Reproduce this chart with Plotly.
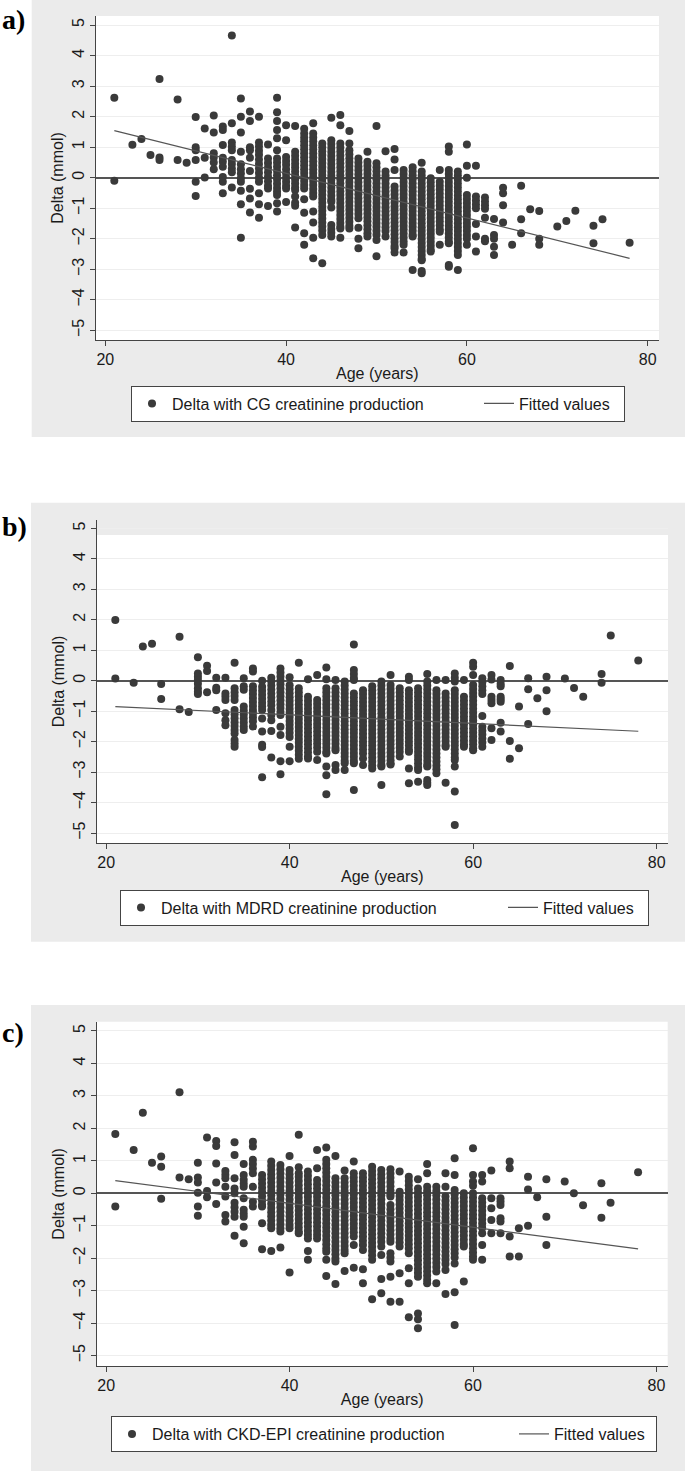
import plotly.graph_objects as go

# ---------------- data ----------------
ticks_x = [20, 40, 60, 80]
ticks_y = [-5, -4, -3, -2, -1, 0, 1, 2, 3, 4, 5]

# Panel a: Delta with CG creatinine production, by age (years)
delta_cg = {
    21: [2.62, -0.10], 23: [1.08], 24: [1.27], 25: [0.74], 26: [3.23, 0.66, 0.58],
    28: [2.56, 0.58], 29: [0.49], 30: [1.99, 1.00, 0.90, 0.58, -0.13, -0.60],
    31: [1.61, 0.65, 0.01], 32: [2.04, 1.48, 0.80, 0.66, 0.50, 0.28],
    33: [1.68, 1.56, 1.07, 0.65, 0.52, 0.36, 0.02, -0.13, -0.51],
    34: [4.66, 1.78, 1.15, 1.02, 0.90, 0.58, 0.45, 0.30, 0.18, -0.32],
    35: [2.59, 2.00, 1.48, 0.85, 0.44, 0.28, 0.14, -0.02, -0.13, -0.43, -0.87, -1.97],
    36: [2.17, 1.86, 1.00, 0.90, 0.65, 0.22, -0.36, -0.68, -1.14],
    37: [2.00, 1.15, 1.02, 0.88, 0.75, 0.60, 0.45, 0.30, 0.15, 0.00, -0.13, -0.51, -0.87, -1.31],
    38: [1.09, 0.63, 0.48, 0.33, 0.18, 0.03, -0.12, -0.26, -0.35, -0.93],
    39: [2.62, 2.14, 1.86, 1.56, 1.29, 0.90, 0.63, 0.50, 0.36, 0.22, 0.08, -0.06, -0.20, -0.34, -0.46, -0.57, -0.84, -1.11],
    40: [1.72, 1.23, 0.68, 0.55, 0.42, 0.28, 0.14, 0.00, -0.13, -0.26, -0.35, -0.80],
    41: [1.69, 0.85, 0.72, 0.59, 0.46, 0.33, 0.20, 0.07, -0.06, -0.19, -0.32, -0.40, -0.62, -0.82, -0.92, -1.63],
    42: [1.60, 1.45, 1.32, 1.19, 1.06, 0.93, 0.80, 0.67, 0.54, 0.41, 0.28, 0.15, 0.02, -0.11, -0.24, -0.35, -0.71, -1.15, -1.82, -2.20],
    43: [1.78, 1.45, 1.32, 1.19, 1.06, 0.93, 0.80, 0.67, 0.54, 0.41, 0.28, 0.15, 0.02, -0.11, -0.24, -0.37, -0.50, -0.62, -1.11, -1.47, -1.97, -2.64],
    44: [1.12, 1.00, 0.87, 0.74, 0.61, 0.48, 0.35, 0.22, 0.09, -0.04, -0.17, -0.30, -0.43, -0.56, -0.69, -0.82, -0.95, -1.08, -1.21, -1.34, -1.47, -1.60, -1.73, -1.88, -2.80],
    45: [1.96, 1.23, 1.10, 0.97, 0.84, 0.71, 0.58, 0.45, 0.32, 0.19, 0.06, -0.07, -0.20, -0.33, -0.46, -0.59, -0.72, -0.79, -0.98, -1.55, -1.68, -1.80, -1.93],
    46: [2.05, 1.72, 1.12, 0.99, 0.86, 0.73, 0.60, 0.47, 0.34, 0.21, 0.08, -0.05, -0.18, -0.31, -0.44, -0.57, -0.70, -0.83, -0.96, -1.09, -1.22, -1.35, -1.48, -1.61, -1.66, -1.97],
    47: [1.53, 1.12, 0.90, 0.77, 0.64, 0.51, 0.38, 0.25, 0.12, -0.01, -0.14, -0.27, -0.40, -0.53, -0.66, -0.79, -0.92, -1.05, -1.18, -1.31, -1.44, -1.57, -1.66],
    48: [0.63, 0.50, 0.37, 0.24, 0.11, -0.02, -0.15, -0.28, -0.41, -0.54, -0.67, -0.80, -0.93, -1.06, -1.19, -1.33, -1.64, -2.00, -2.31],
    49: [0.85, 0.52, 0.39, 0.26, 0.13, 0.00, -0.13, -0.26, -0.39, -0.52, -0.65, -0.78, -0.91, -1.04, -1.17, -1.30, -1.43, -1.56, -1.69, -1.82, -1.93],
    50: [1.69, 0.47, 0.34, 0.21, 0.08, -0.05, -0.18, -0.31, -0.44, -0.57, -0.70, -0.83, -0.96, -1.09, -1.22, -1.35, -1.48, -1.61, -1.74, -1.87, -2.04, -2.57],
    51: [0.87, 0.20, 0.07, -0.06, -0.19, -0.32, -0.45, -0.58, -0.71, -0.84, -0.97, -1.10, -1.23, -1.36, -1.49, -1.62, -1.75, -1.93],
    52: [0.94, 0.60, 0.25, -0.29, -0.42, -0.55, -0.68, -0.81, -0.94, -1.07, -1.20, -1.33, -1.46, -1.59, -1.72, -1.85, -1.98, -2.11, -2.24, -2.31, -2.45],
    53: [0.25, 0.12, -0.01, -0.14, -0.27, -0.40, -0.53, -0.66, -0.79, -0.92, -1.05, -1.18, -1.31, -1.44, -1.57, -1.70, -1.83, -1.96, -2.09, -2.20, -2.45],
    54: [0.34, 0.21, 0.08, -0.05, -0.18, -0.31, -0.44, -0.57, -0.70, -0.83, -0.96, -1.09, -1.22, -1.35, -1.48, -1.61, -1.74, -1.87, -1.93, -3.02],
    55: [0.49, 0.20, 0.07, -0.06, -0.19, -0.32, -0.45, -0.58, -0.71, -0.84, -0.97, -1.10, -1.23, -1.36, -1.49, -1.62, -1.75, -1.88, -2.01, -2.14, -2.27, -2.40, -2.53, -2.66, -2.70, -3.06, -3.13],
    56: [-0.02, -0.15, -0.28, -0.41, -0.54, -0.67, -0.80, -0.93, -1.06, -1.19, -1.32, -1.45, -1.58, -1.71, -1.84, -1.97, -2.10, -2.23, -2.36, -2.42],
    57: [0.25, -0.13, -0.26, -0.39, -0.52, -0.65, -0.78, -0.91, -1.04, -1.17, -1.30, -1.43, -1.56, -1.69, -1.77, -2.20],
    58: [1.02, 0.85, 0.25, 0.12, -0.01, -0.14, -0.27, -0.40, -0.53, -0.66, -0.79, -0.92, -1.05, -1.18, -1.31, -1.44, -1.57, -1.70, -1.83, -1.96, -2.09, -2.15, -2.86, -2.92],
    59: [0.20, 0.07, -0.06, -0.19, -0.32, -0.45, -0.58, -0.71, -0.84, -0.97, -1.10, -1.23, -1.36, -1.49, -1.62, -1.75, -1.88, -2.01, -2.14, -2.27, -2.40, -2.53, -3.02],
    60: [1.09, 0.39, 0.00, -0.57, -0.70, -0.83, -0.96, -1.09, -1.22, -1.35, -1.48, -1.61, -1.74, -1.88, -2.00, -2.20],
    61: [0.39, -0.62, -0.75, -0.88, -1.00, -1.52, -1.93, -2.42],
    62: [-0.65, -0.78, -0.90, -1.02, -1.31, -2.00, -2.08],
    63: [-1.35, -1.88, -2.00, -2.26, -2.53],
    64: [-0.33, -0.51, -0.90, -1.47], 65: [-2.20], 66: [-0.26, -1.36, -1.82], 67: [-1.03],
    68: [-1.09, -2.00, -2.20], 70: [-1.60], 71: [-1.42], 72: [-1.08], 74: [-1.57, -2.15],
    75: [-1.36], 78: [-2.13],
}
fit_cg_age = [21, 78]
fit_cg = [1.54, -2.64]

# Panel b: Delta with MDRD creatinine production
delta_mdrd = {
    21: [1.99, 0.07], 23: [-0.07], 24: [1.12], 25: [1.21], 26: [-0.11, -0.60],
    28: [1.44, -0.94], 29: [-1.03], 30: [0.77, 0.24, 0.13, 0.02, -0.10, -0.25, -0.36, -0.44],
    31: [0.49, 0.32, -0.38], 32: [0.10, -0.23, -0.31, -0.96],
    33: [0.10, -0.42, -0.52, -0.63, -1.07, -1.30, -1.46],
    34: [0.59, -0.25, -0.38, -0.50, -0.63, -0.96, -1.10, -1.23, -1.36, -1.49, -1.62, -1.73, -1.95, -2.06, -2.17],
    35: [0.08, -0.18, -0.30, -0.85, -0.98, -1.11, -1.24, -1.37, -1.50, -1.62],
    36: [0.40, 0.30, -0.18, -0.31, -0.44, -0.57, -0.70, -0.83, -0.96, -1.07, -1.20, -1.33, -1.50],
    37: [0.00, -0.20, -0.33, -0.46, -0.59, -0.72, -0.85, -0.96, -1.24, -1.67, -2.10, -2.18, -3.17],
    38: [0.10, -0.03, -0.16, -0.29, -0.42, -0.55, -0.68, -0.81, -0.96, -1.13, -1.30, -1.65, -2.52],
    39: [0.40, 0.27, 0.14, 0.01, -0.12, -0.25, -0.38, -0.51, -0.64, -0.77, -0.90, -1.03, -1.13, -1.51, -1.78, -2.64, -3.07],
    40: [0.11, -0.15, -0.28, -0.41, -0.54, -0.67, -0.80, -0.93, -1.06, -1.19, -1.32, -1.45, -1.58, -1.71, -1.85, -2.17, -2.64],
    41: [0.59, -0.25, -0.38, -0.51, -0.64, -0.77, -0.90, -1.00, -1.13, -1.26, -1.39, -1.52, -1.65, -1.78, -1.91, -2.04, -2.17, -2.30, -2.43, -2.56],
    42: [0.05, -0.53, -0.66, -0.79, -0.92, -1.05, -1.18, -1.31, -1.44, -1.57, -1.70, -1.83, -1.96, -2.09, -2.22, -2.35, -2.48, -2.55],
    43: [0.19, -0.63, -0.76, -0.89, -1.02, -1.15, -1.28, -1.41, -1.54, -1.67, -1.80, -1.93, -2.06, -2.19, -2.33, -2.60],
    44: [0.43, 0.05, -0.25, -0.38, -0.51, -0.64, -0.77, -0.90, -1.03, -1.16, -1.29, -1.42, -1.55, -1.68, -1.81, -1.94, -2.07, -2.20, -2.33, -2.39, -2.82, -3.10, -3.73],
    45: [0.02, -0.25, -0.38, -0.51, -0.64, -0.77, -0.90, -1.03, -1.16, -1.29, -1.42, -1.55, -1.68, -1.81, -1.94, -2.07, -2.20, -2.28, -2.77, -2.93],
    46: [-0.03, -0.16, -0.29, -0.42, -0.55, -0.68, -0.81, -0.94, -1.07, -1.20, -1.33, -1.46, -1.59, -1.72, -1.85, -1.98, -2.11, -2.24, -2.37, -2.50, -2.63, -2.71, -2.93],
    47: [1.19, 0.35, 0.22, 0.09, 0.02, -0.42, -0.55, -0.68, -0.81, -0.94, -1.07, -1.20, -1.33, -1.46, -1.59, -1.72, -1.85, -1.98, -2.11, -2.24, -2.37, -2.50, -2.63, -2.71, -3.59],
    48: [-0.31, -0.44, -0.57, -0.70, -0.83, -0.96, -1.09, -1.22, -1.35, -1.48, -1.61, -1.74, -1.87, -2.00, -2.13, -2.26, -2.39, -2.55, -2.77],
    49: [-0.18, -0.31, -0.44, -0.57, -0.70, -0.83, -0.96, -1.09, -1.22, -1.35, -1.48, -1.61, -1.74, -1.87, -2.00, -2.13, -2.26, -2.39, -2.52, -2.65, -2.78, -2.88],
    50: [-0.03, -0.16, -0.29, -0.42, -0.55, -0.68, -0.81, -0.94, -1.07, -1.20, -1.33, -1.46, -1.59, -1.72, -1.85, -1.98, -2.11, -2.24, -2.37, -2.50, -2.63, -2.76, -2.82, -3.42],
    51: [0.19, -0.14, -0.27, -0.40, -0.53, -0.66, -0.79, -0.92, -1.05, -1.18, -1.31, -1.44, -1.57, -1.70, -1.83, -1.96, -2.09, -2.22, -2.35, -2.48, -2.61, -2.71, -2.75],
    52: [-0.25, -0.38, -0.51, -0.64, -0.77, -0.90, -1.03, -1.16, -1.29, -1.42, -1.55, -1.68, -1.81, -1.94, -2.07, -2.20, -2.33, -2.49],
    53: [0.13, 0.02, -0.31, -0.44, -0.57, -0.70, -0.83, -0.96, -1.09, -1.22, -1.35, -1.48, -1.61, -1.74, -1.87, -2.00, -2.13, -2.26, -2.33, -2.88, -3.37],
    54: [-0.25, -0.38, -0.51, -0.64, -0.77, -0.90, -1.03, -1.16, -1.29, -1.42, -1.55, -1.68, -1.81, -1.94, -2.07, -2.20, -2.33, -2.46, -2.59, -2.72, -2.85, -2.93, -3.32],
    55: [0.22, -0.03, -0.16, -0.29, -0.42, -0.55, -0.68, -0.81, -0.94, -1.07, -1.20, -1.33, -1.46, -1.59, -1.72, -1.85, -1.98, -2.11, -2.24, -2.37, -2.50, -2.63, -2.76, -2.82, -3.26, -3.35, -3.42],
    56: [0.02, -0.31, -0.44, -0.57, -0.70, -0.83, -0.96, -1.09, -1.22, -1.35, -1.48, -1.61, -1.74, -1.87, -2.00, -2.13, -2.26, -2.39, -2.52, -2.65, -2.78, -2.91, -3.04],
    57: [0.02, -0.42, -0.55, -0.68, -0.81, -0.94, -1.07, -1.20, -1.33, -1.46, -1.59, -1.72, -1.85, -1.98, -2.11, -2.17, -3.35],
    58: [0.24, 0.10, -0.03, -0.31, -0.44, -0.57, -0.70, -0.83, -0.96, -1.09, -1.22, -1.35, -1.48, -1.61, -1.74, -1.87, -2.00, -2.13, -2.26, -2.39, -2.52, -2.60, -2.82, -3.64, -4.74],
    59: [0.02, -0.53, -0.66, -0.79, -0.92, -1.05, -1.18, -1.31, -1.44, -1.57, -1.70, -1.83, -1.96, -2.09, -2.17],
    60: [0.59, 0.46, 0.19, -0.14, -0.27, -0.40, -0.53, -0.66, -0.79, -0.92, -1.05, -1.18, -1.31, -1.44, -1.57, -1.70, -1.83, -1.96, -2.09, -2.22, -2.28],
    61: [0.08, -0.05, -0.18, -0.31, -0.44, -1.16, -1.51, -1.64, -1.77, -1.90, -2.03, -2.17],
    62: [0.19, 0.04, -0.53, -0.63, -0.74, -1.56, -1.95],
    63: [0.02, -0.10, -0.18, -0.53, -0.61, -0.69, -1.38, -1.67],
    64: [0.48, -1.98, -2.56], 65: [-0.85, -2.22], 66: [0.08, -0.28, -1.42], 67: [-0.58],
    68: [0.13, -0.31, -1.00], 70: [0.07], 71: [-0.24], 72: [-0.53], 74: [0.22, -0.07],
    75: [1.48], 78: [0.66],
}
fit_mdrd_age = [21, 78]
fit_mdrd = [-0.85, -1.66]

# Panel c: Delta with CKD-EPI creatinine production
delta_ckdepi = {
    21: [1.83, -0.41], 23: [1.33], 24: [2.48], 25: [0.94], 26: [1.13, 0.82, -0.17],
    28: [3.11, 0.49], 29: [0.43], 30: [0.94, 0.49, 0.33, 0.02, -0.41, -0.69],
    31: [1.72, 0.07, -0.12], 32: [1.61, 1.46, 0.92, 0.33, -0.33],
    33: [0.69, 0.57, 0.46, 0.20, -0.10, -0.67, -0.87],
    34: [1.57, 1.18, 0.46, 0.15, 0.00, -0.29, -0.43, -0.57, -0.72, -1.31],
    35: [0.90, 0.56, 0.42, 0.30, 0.20, -0.15, -0.51, -0.62, -0.72, -1.03, -1.54],
    36: [1.59, 1.44, 1.03, 0.90, 0.76, 0.62, 0.20, -0.26, -0.41],
    37: [0.56, 0.43, 0.30, 0.17, 0.04, -0.09, -0.22, -0.35, -0.41, -0.92, -1.72],
    38: [0.98, 0.85, 0.72, 0.59, 0.46, 0.33, 0.20, 0.07, -0.06, -0.19, -0.32, -0.45, -0.58, -0.71, -0.84, -0.97, -1.08, -1.78],
    39: [0.87, 0.74, 0.61, 0.48, 0.35, 0.22, 0.09, -0.04, -0.17, -0.30, -0.43, -0.56, -0.69, -0.82, -0.95, -1.08, -1.18, -1.67],
    40: [1.15, 0.72, 0.59, 0.46, 0.33, 0.20, 0.07, -0.06, -0.19, -0.32, -0.45, -0.58, -0.71, -0.84, -0.97, -1.08, -2.44],
    41: [1.80, 0.80, 0.62, 0.51, 0.38, 0.25, 0.12, -0.01, -0.14, -0.27, -0.40, -0.53, -0.66, -0.79, -0.92, -1.05, -1.18, -1.23],
    42: [0.67, 0.54, 0.41, 0.28, 0.15, 0.02, -0.11, -0.24, -0.37, -0.50, -0.63, -0.76, -0.89, -1.02, -1.15, -1.28, -1.39, -1.78, -2.05],
    43: [1.33, 0.77, 0.41, 0.28, 0.15, 0.02, -0.11, -0.24, -0.37, -0.50, -0.63, -0.76, -0.89, -1.02, -1.15, -1.28, -1.39],
    44: [1.41, 1.03, 0.90, 0.77, 0.64, 0.51, 0.38, 0.25, 0.12, -0.01, -0.14, -0.27, -0.40, -0.53, -0.66, -0.79, -0.92, -1.05, -1.18, -1.31, -1.44, -1.57, -1.70, -1.80, -2.05, -2.55],
    45: [1.15, 0.46, 0.33, 0.20, 0.07, -0.06, -0.19, -0.32, -0.45, -0.58, -0.71, -0.84, -0.97, -1.10, -1.23, -1.36, -1.49, -1.62, -1.75, -1.88, -2.01, -2.10, -2.79],
    46: [0.70, 0.46, 0.33, 0.20, 0.07, -0.06, -0.19, -0.32, -0.45, -0.58, -0.71, -0.84, -0.97, -1.10, -1.23, -1.36, -1.49, -1.62, -1.75, -1.85, -2.39],
    47: [0.98, 0.62, 0.49, 0.36, 0.23, 0.10, -0.03, -0.16, -0.29, -0.42, -0.55, -0.68, -0.81, -0.94, -1.07, -1.20, -1.33, -1.59, -2.29],
    48: [0.62, 0.49, 0.36, 0.23, 0.10, -0.03, -0.16, -0.29, -0.42, -0.55, -0.68, -0.81, -0.94, -1.07, -1.20, -1.33, -1.46, -1.59, -1.75, -2.34, -2.77],
    49: [0.82, 0.69, 0.56, 0.43, 0.30, 0.17, 0.04, -0.09, -0.22, -0.35, -0.48, -0.61, -0.74, -0.87, -1.00, -1.13, -1.26, -1.39, -1.52, -1.65, -1.78, -1.91, -2.05, -3.26],
    50: [0.72, 0.59, 0.46, 0.33, 0.20, 0.07, -0.06, -0.19, -0.32, -0.45, -0.58, -0.71, -0.84, -0.97, -1.10, -1.23, -1.36, -1.49, -1.64, -1.90, -2.64, -3.08],
    51: [0.74, 0.61, 0.48, 0.35, 0.22, 0.09, -0.04, -0.10, -0.36, -0.49, -0.62, -0.75, -0.88, -1.01, -1.14, -1.27, -1.40, -1.49, -1.85, -1.98, -2.10, -2.57, -3.34],
    52: [0.67, 0.05, -0.08, -0.21, -0.34, -0.47, -0.60, -0.73, -0.86, -0.99, -1.12, -1.25, -1.38, -1.51, -1.64, -2.46, -3.34],
    53: [0.51, 0.38, 0.25, 0.12, -0.01, -0.14, -0.27, -0.40, -0.53, -0.66, -0.79, -0.92, -1.05, -1.18, -1.31, -1.44, -1.57, -1.70, -1.85, -2.31, -2.77, -3.82],
    54: [0.43, 0.15, 0.02, -0.11, -0.24, -0.37, -0.50, -0.63, -0.76, -0.89, -1.02, -1.15, -1.28, -1.41, -1.54, -1.67, -1.80, -1.93, -2.06, -2.19, -2.32, -2.45, -2.57, -3.70, -3.88, -4.16],
    55: [0.90, 0.62, 0.20, 0.07, -0.06, -0.19, -0.32, -0.45, -0.58, -0.71, -0.84, -0.97, -1.10, -1.23, -1.36, -1.49, -1.62, -1.75, -1.88, -2.01, -2.14, -2.27, -2.40, -2.53, -2.66, -2.77],
    56: [0.20, 0.07, -0.06, -0.19, -0.32, -0.45, -0.58, -0.71, -0.84, -0.97, -1.10, -1.23, -1.36, -1.49, -1.62, -1.75, -1.88, -2.01, -2.14, -2.27, -2.41, -2.77],
    57: [0.62, 0.20, -0.10, -0.23, -0.36, -0.49, -0.62, -0.75, -0.88, -1.01, -1.14, -1.27, -1.40, -1.53, -1.66, -1.79, -1.92, -2.05, -2.18, -2.36, -3.10],
    58: [1.08, 0.56, 0.10, -0.03, -0.16, -0.29, -0.42, -0.55, -0.68, -0.81, -0.94, -1.07, -1.20, -1.33, -1.46, -1.59, -1.72, -1.85, -1.98, -2.16, -3.05, -4.06],
    59: [0.00, -0.13, -0.26, -0.39, -0.52, -0.65, -0.78, -0.91, -1.04, -1.17, -1.30, -1.43, -1.56, -1.64, -2.72],
    60: [1.39, 0.56, 0.36, 0.23, 0.00, -0.13, -0.26, -0.39, -0.52, -0.65, -0.78, -0.91, -1.04, -1.17, -1.30, -1.43, -1.56, -1.69, -1.82, -1.95, -2.05],
    61: [0.56, 0.36, -0.15, -0.28, -0.41, -0.54, -0.67, -0.80, -0.93, -1.06, -1.23, -1.59, -2.05],
    62: [0.70, -0.15, -0.46, -0.82, -1.23],
    63: [-0.15, -0.25, -0.36, -0.77, -0.87, -1.23],
    64: [0.98, 0.77, -1.33, -1.95], 65: [-1.08, -1.95], 66: [0.51, 0.12, -1.00], 67: [-0.12],
    68: [0.43, -0.72, -1.59], 70: [0.36], 71: [0.00], 72: [-0.37], 74: [0.31, -0.75],
    75: [-0.29], 78: [0.65],
}
fit_ckdepi_age = [21, 78]
fit_ckdepi = [0.39, -1.71]

# ---------------- figure ----------------
W, H = 685, 1471
FONT = "Liberation Sans, Arial, sans-serif"
MARK = "#3a3a3a"
GREY_BG = "#ebebeb"


def flatten(cols):
    xs, ys = [], []
    for age, vals in cols.items():
        for v in vals:
            xs.append(age)
            ys.append(v)
    return xs, ys


def fx(p):
    return p / W


def fy(p):
    return 1 - p / H


panels = [
    dict(data=delta_cg, fit_x=fit_cg_age, fit_y=fit_cg,
         name="Delta with CG creatinine production", legend="legend",
         xdom=[95.7, 659], ytop=16, ybot=340, xr=[18.94, 81.25], yr=[-5.316, 5.296],
         bg=[31.7, 0, 685, 437], lab="a)", laby=20,
         leg=dict(x=131, y=385.5, w1=302, w2=100)),
    dict(data=delta_mdrd, fit_x=fit_mdrd_age, fit_y=fit_mdrd,
         name="Delta with MDRD creatinine production", legend="legend2",
         xdom=[96.7, 668], ytop=520, ybot=843, xr=[18.97, 81.24], yr=[-5.327, 5.274],
         bg=[31, 502.7, 685, 941.7], lab="b)", laby=527,
         leg=dict(x=120, y=889.5, w1=337, w2=100)),
    dict(data=delta_ckdepi, fit_x=fit_ckdepi_age, fit_y=fit_ckdepi,
         name="Delta with CKD-EPI creatinine production", legend="legend3",
         xdom=[96.7, 667.7], ytop=1021.7, ybot=1366, xr=[18.97, 81.23], yr=[-5.319, 5.285],
         bg=[31, 1005, 685, 1471], lab="c)", laby=1032,
         leg=dict(x=111, y=1416, w1=357, w2=97)),
]

fig = go.Figure()
shapes = []
annotations = []
layout = {}

for i, p in enumerate(panels):
    n = "" if i == 0 else str(i + 1)
    xs, ys = flatten(p["data"])
    fig.add_trace(go.Scatter(
        x=xs, y=ys, mode="markers", name=p["name"],
        xaxis="x" + n, yaxis="y" + n, legend=p["legend"],
        legendwidth=p["leg"]["w1"],
        marker=dict(color=MARK, size=8, line=dict(width=0)),
        hoverinfo="skip"))
    fig.add_trace(go.Scatter(
        x=p["fit_x"], y=p["fit_y"], mode="lines", name="Fitted values",
        xaxis="x" + n, yaxis="y" + n, legend=p["legend"],
        legendwidth=p["leg"]["w2"],
        line=dict(color="#555555", width=1.2),
        hoverinfo="skip"))

    bx0, by0, bx1, by1 = p["bg"]
    shapes.append(dict(type="rect", xref="paper", yref="paper", layer="below",
                       x0=fx(bx0), x1=fx(bx1), y0=fy(by1), y1=fy(by0),
                       fillcolor=GREY_BG, line=dict(width=0)))
    # white plot region on top of the grey panel
    shapes.append(dict(type="rect", xref="x" + n + " domain", yref="y" + n + " domain",
                       layer="below", x0=0, x1=1, y0=0, y1=1,
                       fillcolor="white", line=dict(width=0)))

    layout["xaxis" + n] = dict(
        domain=[fx(p["xdom"][0]), fx(p["xdom"][1])], range=p["xr"],
        anchor="y" + n, tickmode="array", tickvals=ticks_x,
        ticks="outside", ticklen=5, tickwidth=1, tickcolor="#444",
        showline=True, linecolor="#444", linewidth=1, mirror=False,
        showgrid=False, zeroline=False,
        tickfont=dict(family=FONT, size=16, color="#1a1a1a"),
        title=dict(text="Age (years)", font=dict(family=FONT, size=16, color="#1a1a1a"),
                   standoff=0),
        fixedrange=True)
    layout["yaxis" + n] = dict(
        domain=[fy(p["ybot"]), fy(p["ytop"])], range=p["yr"],
        anchor="x" + n, tickmode="array", tickvals=ticks_y,
        ticks="outside", ticklen=5, tickwidth=1, tickcolor="#444",
        tickangle=-90, ticklabelstandoff=-1,
        showline=True, linecolor="#444", linewidth=1,
        showgrid=True, gridcolor="#eeeeee", gridwidth=1,
        zeroline=True, zerolinecolor="#555555", zerolinewidth=1.6,
        tickfont=dict(family=FONT, size=16, color="#1a1a1a"),
        title=dict(text="Delta (mmol)", font=dict(family=FONT, size=16, color="#1a1a1a"),
                   standoff=2),
        fixedrange=True)

    layout[p["legend"]] = dict(
        orientation="h", x=fx(p["leg"]["x"]), xanchor="left",
        y=fy(p["leg"]["y"]), yanchor="top",
        bgcolor="white", bordercolor="#444", borderwidth=1,
        font=dict(family=FONT, size=16, color="#1a1a1a"),
        itemclick=False, itemdoubleclick=False)

    annotations.append(dict(text="<b>" + p["lab"] + "</b>", xref="paper", yref="paper",
                            x=0, xanchor="left", y=fy(p["laby"]), yanchor="middle",
                            showarrow=False,
                            font=dict(family="Liberation Serif, Times New Roman, serif",
                                      size=28, color="black")))

# grey strip at the top of panel b plot region
shapes.append(dict(type="rect", xref="x2 domain", yref="y2", layer="below",
                   x0=0, x1=1, y0=4.78, y1=5.274, fillcolor=GREY_BG, line=dict(width=0)))

fig.update_layout(
    width=W, height=H, autosize=False,
    margin=dict(l=0, r=0, t=0, b=0),
    paper_bgcolor="white", plot_bgcolor="white",
    showlegend=True, shapes=shapes, annotations=annotations,
    **layout)

fig.write_html("out.html", config={"displayModeBar": False},
               post_script="document.body.style.margin='0';document.body.style.overflow='hidden';")
